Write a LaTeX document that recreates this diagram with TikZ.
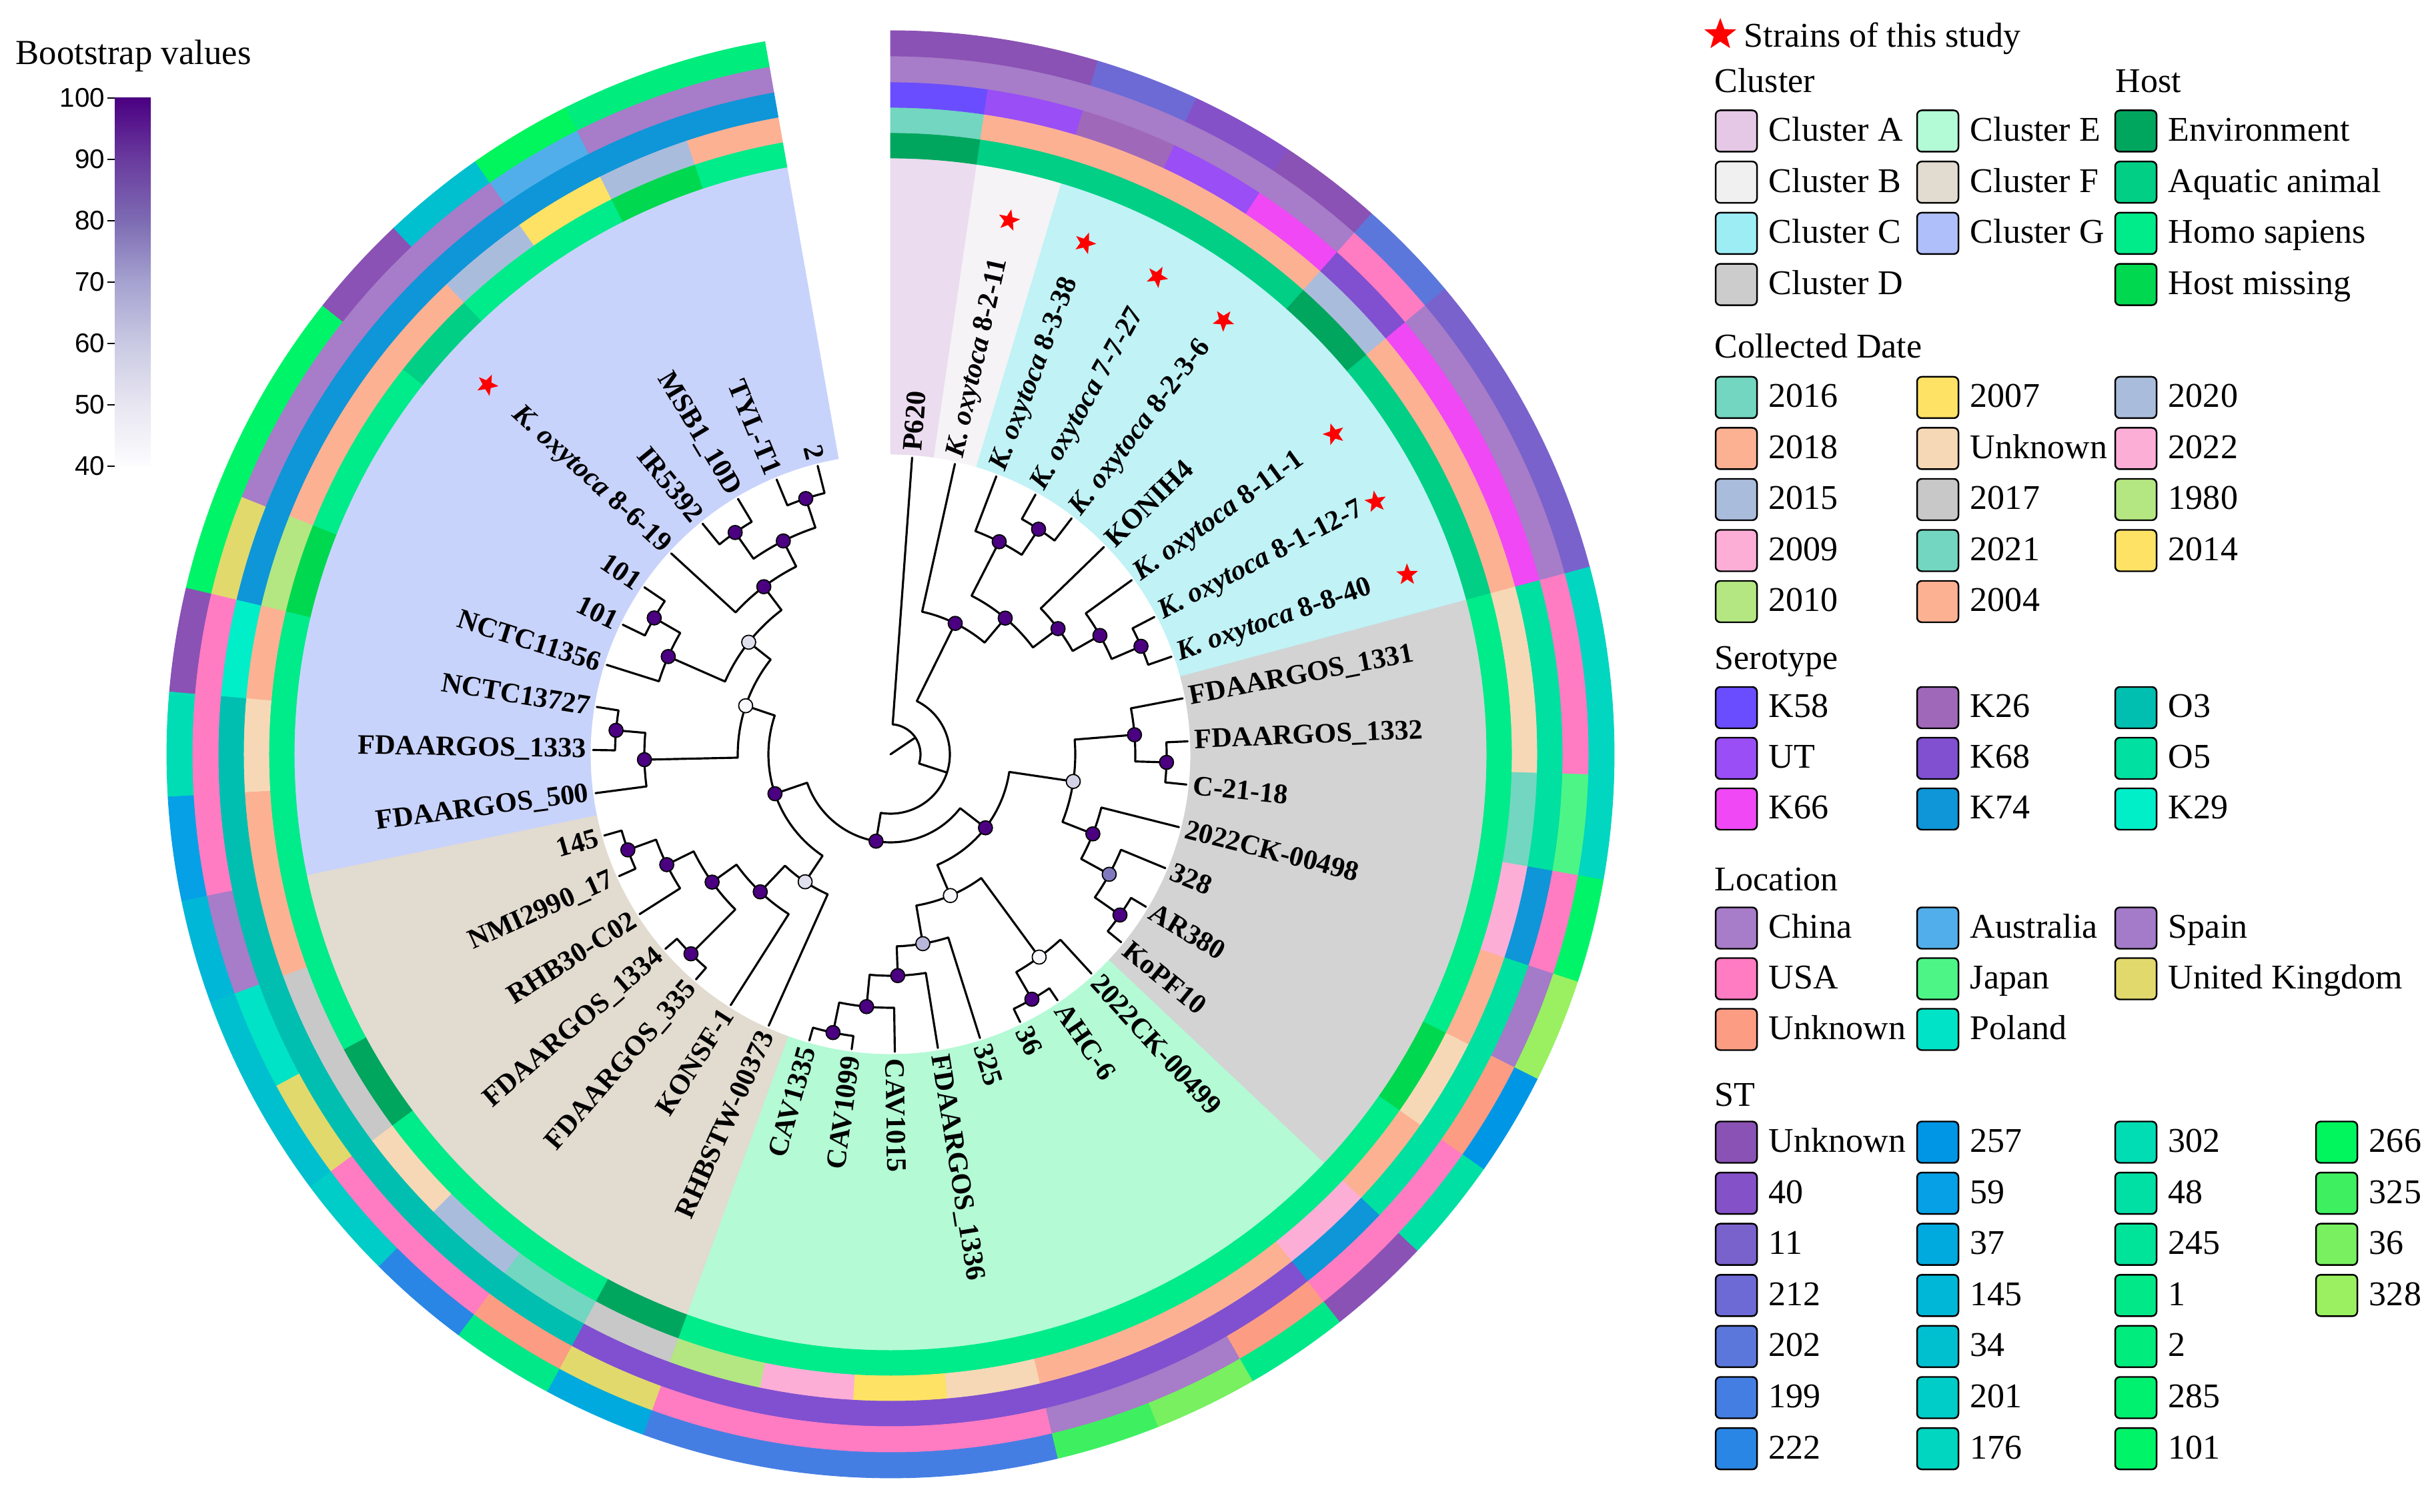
\documentclass[tikz,border=0pt]{standalone}
\usepackage{fontspec}
\setmainfont{Liberation Serif}
\newfontfamily\sansf{Liberation Sans}
\usetikzlibrary{shapes.geometric}

\definecolor{secA}{HTML}{EBDCEF}
\definecolor{secB}{HTML}{F5F3F5}
\definecolor{secC}{HTML}{C0F2F6}
\definecolor{secD}{HTML}{D3D3D3}
\definecolor{secE}{HTML}{B3FAD5}
\definecolor{secF}{HTML}{E2DBCF}
\definecolor{secG}{HTML}{C8D3FC}
\definecolor{clA}{HTML}{E4C8E6}
\definecolor{clB}{HTML}{F0F0F0}
\definecolor{clC}{HTML}{9DEDF5}
\definecolor{clD}{HTML}{CCCCCC}
\definecolor{clE}{HTML}{B3FBD6}
\definecolor{clF}{HTML}{E1DBD0}
\definecolor{clG}{HTML}{AFBFFA}
\definecolor{hEnv}{HTML}{00A65E}
\definecolor{hAqu}{HTML}{00CF85}
\definecolor{hHomo}{HTML}{00EB8A}
\definecolor{hMis}{HTML}{00D84F}
\definecolor{dTeal}{HTML}{72D6C0}
\definecolor{dPeach}{HTML}{FDB193}
\definecolor{dBlue}{HTML}{AABCDC}
\definecolor{dPink}{HTML}{FDAED7}
\definecolor{dGreen}{HTML}{B4E682}
\definecolor{dYel}{HTML}{FDE266}
\definecolor{dUnk}{HTML}{F6D8B6}
\definecolor{dGray}{HTML}{C8C8C8}
\definecolor{sK58}{HTML}{6A4DFF}
\definecolor{sUT}{HTML}{9A4EF5}
\definecolor{sK66}{HTML}{F048F5}
\definecolor{sK26}{HTML}{A068B8}
\definecolor{sK68}{HTML}{8050D0}
\definecolor{sK74}{HTML}{0E96D8}
\definecolor{sO3}{HTML}{00BFB0}
\definecolor{sO5}{HTML}{00E0A0}
\definecolor{sK29}{HTML}{00EEC8}
\definecolor{lChina}{HTML}{A77CC8}
\definecolor{lUSA}{HTML}{FF7BC2}
\definecolor{lUnk}{HTML}{FC9C82}
\definecolor{lAus}{HTML}{52AEEA}
\definecolor{lJapan}{HTML}{4DF587}
\definecolor{lPoland}{HTML}{00E3C6}
\definecolor{lSpain}{HTML}{A37BC8}
\definecolor{lUK}{HTML}{E1D96C}
\definecolor{stUnk}{HTML}{8A52B4}
\definecolor{st40}{HTML}{8551C8}
\definecolor{st11}{HTML}{7A62CC}
\definecolor{st212}{HTML}{6D6AD6}
\definecolor{st202}{HTML}{5B77DC}
\definecolor{st199}{HTML}{457EE3}
\definecolor{st222}{HTML}{2A86E5}
\definecolor{st257}{HTML}{0096E6}
\definecolor{st59}{HTML}{05A0E6}
\definecolor{st37}{HTML}{00AADF}
\definecolor{st145}{HTML}{00B7D8}
\definecolor{st34}{HTML}{00C0D0}
\definecolor{st201}{HTML}{00CCC8}
\definecolor{st176}{HTML}{00D6C0}
\definecolor{st302}{HTML}{00DDB5}
\definecolor{st48}{HTML}{00E0A5}
\definecolor{st245}{HTML}{00E49A}
\definecolor{st1}{HTML}{00E888}
\definecolor{st2}{HTML}{00EC7C}
\definecolor{st285}{HTML}{00F070}
\definecolor{st101}{HTML}{00F468}
\definecolor{st266}{HTML}{00F65C}
\definecolor{st325}{HTML}{3EF060}
\definecolor{st36}{HTML}{78F060}
\definecolor{st328}{HTML}{9AF060}
\definecolor{bDark}{HTML}{4B0082}
\definecolor{bWhite}{HTML}{F8F7FB}
\definecolor{bPale}{HTML}{E0DFEE}
\definecolor{bLight}{HTML}{D2D1E6}
\definecolor{bMid}{HTML}{B9B7D9}
\definecolor{bMed}{HTML}{8179BE}
\definecolor{sh40}{HTML}{FDFCFE}
\definecolor{sh50}{HTML}{E8E6F1}
\definecolor{sh60}{HTML}{C9C9E3}
\definecolor{sh70}{HTML}{A5A2D0}
\definecolor{sh80}{HTML}{7D6BB3}
\definecolor{sh90}{HTML}{6A3B9E}

\pgfdeclareverticalshading{bootbar}{100bp}{color(0bp)=(sh40); color(25bp)=(sh40); color(33.33bp)=(sh50); color(41.67bp)=(sh60); color(50bp)=(sh70); color(58.33bp)=(sh80); color(66.67bp)=(sh90); color(75bp)=(bDark); color(100bp)=(bDark)}

\newcommand{\kox}{\textit{K. oxytoca}}
\newcommand{\annseg}[5]{\fill[#5, draw=#5, line width=0.25pt] (#3:#1) arc[start angle=#3, end angle=#4, radius=#1] -- (#4:#2) arc[start angle=#4, end angle=#3, radius=#2] -- cycle;}
\newcommand{\legitem}[4]{\node[swatch, fill=#3] (sw) at (#1,#2) {}; \node[legtext, anchor=base west] at ([xshift=0.16cm, yshift=-0.15cm]sw.east) {#4};}

\begin{document}
\begin{tikzpicture}[
  branch/.style={line width=0.9pt, line cap=round, line join=round},
  boot/.style={circle, draw=black, line width=0.5pt, minimum size=0.21cm, inner sep=0pt},
  leaf/.style={font=\rmfamily\fontsize{12}{13}\selectfont\bfseries, inner sep=2.5pt},
  redstar/.style={star, star points=5, star point ratio=2.4, fill=red, inner sep=0pt, minimum size=0.34cm},
  swatch/.style={draw=black, line width=0.7pt, rounded corners=0.07cm, minimum size=0.62cm, inner sep=0pt},
  legtext/.style={font=\rmfamily\fontsize{14.8}{16}\selectfont, inner sep=0pt}]
\useasboundingbox (0,0) rectangle (36.49,22.66);

\begin{scope}[shift={(13.35,11.35)}]
\coordinate (ctr) at (0,0);
\foreach \c/\a/\b in {secA/90/81.6667, secB/81.6667/73.3333, secC/73.3333/15, secD/15/-43.3333, secE/-43.3333/-110, secF/-110/-168.3333, secG/-168.3333/-260}{\annseg{4.50}{8.94}{\a}{\b}{\c}}

\foreach \i/\h/\d/\s/\l/\t [evaluate=\i as \a using 90-8.33333*\i, evaluate=\i as \b using 81.66667-8.33333*\i] in {
  0/hEnv/dTeal/sK58/lChina/stUnk, 1/hAqu/dPeach/sUT/lChina/stUnk, 2/hAqu/dPeach/sK26/lChina/st212,
  3/hAqu/dPeach/sUT/lChina/st40, 4/hAqu/dPeach/sK66/lChina/stUnk, 5/hEnv/dBlue/sK68/lUSA/st202,
  6/hAqu/dPeach/sK66/lChina/st11, 7/hAqu/dPeach/sK66/lChina/st11, 8/hAqu/dPeach/sK66/lChina/st11,
  9/hHomo/dUnk/sO5/lUSA/st176, 10/hHomo/dUnk/sO5/lUSA/st176, 11/hHomo/dTeal/sO5/lJapan/st176,
  12/hHomo/dPink/sK74/lUSA/st101, 13/hHomo/dPeach/sO5/lSpain/st328, 14/hMis/dUnk/sO5/lUnk/st257,
  15/hHomo/dPeach/sO5/lUSA/st48, 16/hHomo/dPink/sK74/lUSA/stUnk, 17/hHomo/dPeach/sK68/lUnk/st1,
  18/hHomo/dPeach/sK68/lChina/st36, 19/hHomo/dPeach/sK68/lChina/st325, 20/hHomo/dUnk/sK68/lUSA/st199,
  21/hHomo/dYel/sK68/lUSA/st199, 22/hHomo/dPink/sK68/lUSA/st199, 23/hHomo/dGreen/sK68/lUSA/st199,
  24/hEnv/dGray/sK68/lUK/st37, 25/hHomo/dTeal/sO3/lUnk/st1, 26/hHomo/dBlue/sO3/lUSA/st222,
  27/hHomo/dUnk/sO3/lUSA/st201, 28/hEnv/dGray/sO3/lUK/st34, 29/hHomo/dGray/sO3/lPoland/st34,
  30/hHomo/dPeach/sO3/lChina/st145, 31/hHomo/dPeach/sO3/lUSA/st59, 32/hHomo/dUnk/sO3/lUSA/st302,
  33/hHomo/dPeach/sK29/lUSA/stUnk, 34/hMis/dGreen/sK74/lUK/st101, 35/hHomo/dPeach/sK74/lChina/st101,
  36/hHomo/dPeach/sK74/lChina/st101, 37/hAqu/dPeach/sK74/lChina/stUnk, 38/hHomo/dBlue/sK74/lChina/st34,
  39/hHomo/dYel/sK74/lAus/st266, 40/hMis/dBlue/sK74/lChina/st2, 41/hHomo/dPeach/sK74/lChina/st2}{
  \annseg{8.94}{9.32}{\a}{\b}{\h}
  \annseg{9.32}{9.70}{\a}{\b}{\d}
  \annseg{9.70}{10.08}{\a}{\b}{\s}
  \annseg{10.08}{10.47}{\a}{\b}{\l}
  \annseg{10.47}{10.85}{\a}{\b}{\t}
}

\foreach \i/\lab [evaluate=\i as \a using 85.83333-8.33333*\i] in {
  0/P620, 1/{\kox{} 8-2-11}, 2/{\kox{} 8-3-38}, 3/{\kox{} 7-7-27}, 4/{\kox{} 8-2-3-6}, 5/KONIH4,
  6/{\kox{} 8-11-1}, 7/{\kox{} 8-1-12-7}, 8/{\kox{} 8-8-40}, 9/FDAARGOS\_1331, 10/FDAARGOS\_1332,
  11/C-21-18, 12/2022CK-00498, 13/328, 14/AR380, 15/KoPF10, 16/2022CK-00499, 17/AHC-6, 18/36,
  19/325, 20/FDAARGOS\_1336, 21/CAV1015}{
  \coordinate (L\i) at (\a:4.46);
  \node[leaf, anchor=west, rotate=\a] (T\i) at (\a:4.47) {\lab};
}
\foreach \i/\lab [evaluate=\i as \a using 85.83333-8.33333*\i, evaluate=\i as \b using 265.83333-8.33333*\i] in {
  22/CAV1099, 23/CAV1335, 24/RHBSTW-00373, 25/KONSF-1, 26/FDAARGOS\_335, 27/FDAARGOS\_1334,
  28/RHB30-C02, 29/NMI2990\_17, 30/145, 31/FDAARGOS\_500, 32/FDAARGOS\_1333, 33/NCTC13727,
  34/NCTC11356, 35/101, 36/101, 37/{\kox{} 8-6-19}, 38/IR5392, 39/MSB1\_10D, 40/TYL-T1, 41/2}{
  \coordinate (L\i) at (\a:4.46);
  \node[leaf, anchor=east, rotate=\b] (T\i) at (\a:4.47) {\lab};
}

\foreach \a in {77.5, 69.1667, 60.8333, 52.5, 35.8333, 27.5, 19.1667, -222.5}{
  \node[redstar, rotate=\a-90] at (\a:8.20) {};
}

\foreach \n/\a/\r in {root/33.98/0.45, n1/-17.88/0.89, n2/63.70/2.19, n35/49.90/2.67, n36/62.92/3.58,
  n37/56.67/4.04, n38/36.88/3.14, n39/29.58/3.61, n40/23.33/4.09, n3/-99.45/1.32, n4/-37.73/1.80,
  n17/-8.44/2.77, n30/4.58/3.67, n31/-1.67/4.14, n32/-21.46/3.26, n33/-28.75/3.74, n34/-35.00/4.20,
  n18/-67.03/2.30, n24/-53.75/3.77, n25/-60.00/4.24, n26/-80.31/2.88, n27/-88.13/3.32, n28/-95.42/3.80,
  n29/-101.67/4.26, n5/-161.17/1.83, n7/-123.80/2.30, n19/-133.44/2.84, n20/-144.38/3.29,
  n21/-135.00/4.23, n22/-153.75/3.74, n23/-160.00/4.19, n6/-198.54/2.29, n9/-178.75/3.69,
  n10/-185.00/4.13, n8/-218.33/2.71, n11/-203.75/3.64, n12/-210.00/4.09, n13/-232.92/3.15,
  n14/-243.33/3.58, n15/-235.00/4.06, n16/-251.67/4.04}{
  \coordinate (\n) at (\a:\r);
}

\draw[branch] (ctr) -- (root);
\foreach \r/\p/\pa/\q/\qa in {0.45/L0/85.83/n1/-17.88, 0.89/n2/63.70/n3/-99.45, 2.19/L1/77.50/n35/49.90,
  2.67/n36/62.92/n38/36.88, 3.58/L2/69.17/n37/56.67, 4.04/L3/60.83/L4/52.50, 3.14/L5/44.17/n39/29.58,
  3.61/L6/35.83/n40/23.33, 4.09/L7/27.50/L8/19.17, 1.32/n4/-37.73/n5/-161.17, 1.80/n17/-8.44/n18/-67.03,
  2.77/n30/4.58/n32/-21.46, 3.67/L9/10.83/n31/-1.67, 4.14/L10/2.50/L11/-5.83, 3.26/L12/-14.17/n33/-28.75,
  3.74/L13/-22.50/n34/-35.00, 4.20/L14/-30.83/L15/-39.17, 2.30/n24/-53.75/n26/-80.31,
  3.77/L16/-47.50/n25/-60.00, 4.24/L17/-55.83/L18/-64.17, 2.88/L19/-72.50/n27/-88.13,
  3.32/L20/-80.83/n28/-95.42, 3.80/L21/-89.17/n29/-101.67, 4.26/L22/-97.50/L23/-105.83,
  1.83/n7/-123.80/n6/-198.54, 2.30/L24/-114.17/n19/-133.44, 2.84/L25/-122.50/n20/-144.38,
  3.29/n21/-135.00/n22/-153.75, 4.23/L26/-130.83/L27/-139.17, 3.74/L28/-147.50/n23/-160.00,
  4.19/L29/-155.83/L30/-164.17, 2.29/n9/-178.75/n8/-218.33, 3.69/L31/-172.50/n10/-185.00,
  4.13/L32/-180.83/L33/-189.17, 2.71/n11/-203.75/n13/-232.92, 3.64/L34/-197.50/n12/-210.00,
  4.09/L35/-205.83/L36/-214.17, 3.15/L37/-222.50/n14/-243.33, 3.58/n15/-235.00/n16/-251.67,
  4.06/L38/-230.83/L39/-239.17, 4.04/L40/-247.50/L41/-255.83}{
  \draw[branch] (\p) -- (\pa:\r) arc[start angle=\pa, end angle=\qa, radius=\r] -- (\q);
}

\foreach \n/\c in {n2/bDark, n35/bDark, n36/bDark, n37/bDark, n38/bDark, n39/bDark, n40/bDark,
  n3/bDark, n4/bDark, n17/bLight, n30/bDark, n31/bDark, n32/bDark, n33/bMed, n34/bDark,
  n18/bWhite, n24/bWhite, n25/bDark, n26/bMid, n27/bDark, n28/bDark, n29/bDark, n5/bDark,
  n7/bPale, n19/bDark, n20/bDark, n21/bDark, n22/bDark, n23/bDark, n6/bWhite, n9/bDark,
  n10/bDark, n8/bPale, n11/bDark, n12/bDark, n13/bDark, n14/bDark, n15/bDark, n16/bDark}{
  \node[boot, fill=\c] (b\n) at (\n) {};
}
\end{scope}

\node[anchor=base west, font=\rmfamily\fontsize{15}{16}\selectfont, inner sep=0pt] (cbt) at (0.23,21.69) {Bootstrap values};
\shade[shading=bootbar] (1.72,15.67) rectangle (2.26,21.19);
\foreach \v in {40,50,...,100}{
  \draw[line width=0.6pt] ({1.61},{15.67+(\v-40)*0.092}) -- ({1.72},{15.67+(\v-40)*0.092});
  \node[anchor=east, font=\sansf\fontsize{11.5}{12}\selectfont, inner sep=0pt] (tk\v) at ({1.58},{15.67+(\v-40)*0.092}) {\v};
}

\node[redstar, minimum size=0.5cm] (sl) at (25.79,22.14) {};
\node[legtext, anchor=base west] (stl) at (26.14,21.95) {Strains of this study};
\node[legtext, anchor=base west] (tcl) at (25.70,21.27) {Cluster};
\node[legtext, anchor=base west] (tho) at (31.71,21.27) {Host};
\node[legtext, anchor=base west] (tda) at (25.70,17.29) {Collected Date};
\node[legtext, anchor=base west] (tse) at (25.70,12.62) {Serotype};
\node[legtext, anchor=base west] (tlo) at (25.70,9.30) {Location};
\node[legtext, anchor=base west] (tst) at (25.70,6.07) {ST};

\foreach \c/\t [count=\k from 0] in {clA/Cluster A, clB/Cluster B, clC/Cluster C, clD/Cluster D}{\legitem{26.03}{20.695-0.767*\k}{\c}{\t}}
\foreach \c/\t [count=\k from 0] in {clE/Cluster E, clF/Cluster F, clG/Cluster G}{\legitem{29.05}{20.695-0.767*\k}{\c}{\t}}
\foreach \c/\t [count=\k from 0] in {hEnv/Environment, hAqu/Aquatic animal, hHomo/Homo sapiens, hMis/Host missing}{\legitem{32.02}{20.695-0.767*\k}{\c}{\t}}

\foreach \c/\t [count=\k from 0] in {dTeal/2016, dPeach/2018, dBlue/2015, dPink/2009, dGreen/2010}{\legitem{26.03}{16.70-0.765*\k}{\c}{\t}}
\foreach \c/\t [count=\k from 0] in {dYel/2007, dUnk/Unknown, dGray/2017, dTeal/2021, dPeach/2004}{\legitem{29.05}{16.70-0.765*\k}{\c}{\t}}
\foreach \c/\t [count=\k from 0] in {dBlue/2020, dPink/2022, dGreen/1980, dYel/2014}{\legitem{32.02}{16.70-0.765*\k}{\c}{\t}}

\foreach \c/\t [count=\k from 0] in {sK58/K58, sUT/UT, sK66/K66}{\legitem{26.03}{12.05-0.76*\k}{\c}{\t}}
\foreach \c/\t [count=\k from 0] in {sK26/K26, sK68/K68, sK74/K74}{\legitem{29.05}{12.05-0.76*\k}{\c}{\t}}
\foreach \c/\t [count=\k from 0] in {sO3/O3, sO5/O5, sK29/K29}{\legitem{32.02}{12.05-0.76*\k}{\c}{\t}}

\foreach \c/\t [count=\k from 0] in {lChina/China, lUSA/USA, lUnk/Unknown}{\legitem{26.03}{8.745-0.76*\k}{\c}{\t}}
\foreach \c/\t [count=\k from 0] in {lAus/Australia, lJapan/Japan, lPoland/Poland}{\legitem{29.05}{8.745-0.76*\k}{\c}{\t}}
\foreach \c/\t [count=\k from 0] in {lSpain/Spain, lUK/United Kingdom}{\legitem{32.02}{8.745-0.76*\k}{\c}{\t}}

\foreach \c/\t [count=\k from 0] in {stUnk/Unknown, st40/40, st11/11, st212/212, st202/202, st199/199, st222/222}{\legitem{26.03}{5.535-0.766*\k}{\c}{\t}}
\foreach \c/\t [count=\k from 0] in {st257/257, st59/59, st37/37, st145/145, st34/34, st201/201, st176/176}{\legitem{29.05}{5.535-0.766*\k}{\c}{\t}}
\foreach \c/\t [count=\k from 0] in {st302/302, st48/48, st245/245, st1/1, st2/2, st285/285, st101/101}{\legitem{32.02}{5.535-0.766*\k}{\c}{\t}}
\foreach \c/\t [count=\k from 0] in {st266/266, st325/325, st36/36, st328/328}{\legitem{35.03}{5.535-0.766*\k}{\c}{\t}}
\end{tikzpicture}
\end{document}
